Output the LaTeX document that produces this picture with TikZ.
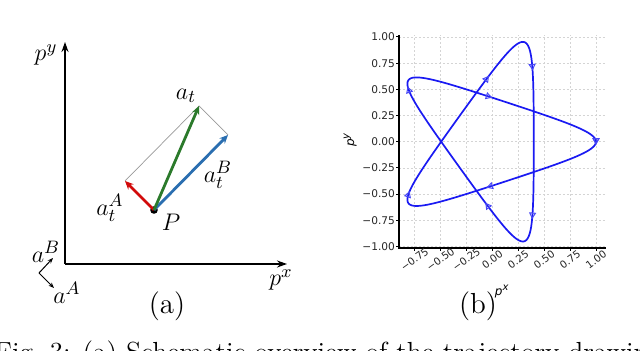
\documentclass[tikz,border=0pt]{standalone}
\usepackage{fontspec}
\usetikzlibrary{arrows.meta,positioning,calc}
\newfontfamily\plotfont{DejaVu Sans}
\definecolor{vecred}{HTML}{D20A0A}
\definecolor{vecgreen}{HTML}{2B7A2B}
\definecolor{vecblue}{HTML}{2A6EB0}
\definecolor{starblue}{HTML}{1A1AF2}
\definecolor{gridgray}{HTML}{D4D4D4}

\begin{document}
\begin{tikzpicture}[x=0.5pt, y=0.5pt,
    axisarrow/.style={black, line width=0.8pt, -{Stealth[length=5pt,width=3.5pt]}},
    vecarrow/.style={line width=1.4pt, -{Stealth[length=4.2pt,width=3.8pt]}},
    mathlabel/.style={font=\fontsize{13}{15}\selectfont, inner sep=1pt},
    caplabel/.style={font=\rmfamily\fontsize{14.5}{16}\selectfont, inner sep=0pt},
    gridline/.style={gridgray, line width=0.35pt, dash pattern=on 1.2pt off 0.8pt},
    spine/.style={black, line width=0.9pt},
    ticklabel/.style={font=\plotfont\fontsize{5.3}{6}\selectfont, inner sep=0pt, text=black!85},
    starmark/.style={starblue!80, line width=0.5pt, -{Triangle[open,length=3.3pt,width=3.6pt]}}]

  \useasboundingbox (0,0) rectangle (640,351);

  % ============ (a) SCHEMATIC ============

  % ---- Axes ----
  \coordinate (O) at (65,87);
  \coordinate (ytop) at (65,309);
  \coordinate (xend) at (287,87);
  \draw[axisarrow] (O) -- (ytop);
  \draw[axisarrow] (O) -- (xend);
  \node[mathlabel] (py) at (46,296) {$p^y$};
  \node[mathlabel] (px) at (281,71) {$p^x$};

  % ---- Action vectors ----
  \node[circle, fill=black, inner sep=0pt, minimum size=3.8pt] (P) at (154,141) {};
  \coordinate (tA) at (125,170);
  \coordinate (tB) at (228,216);
  \coordinate (tAB) at (199,245);
  \draw[gray!80, line width=0.35pt] (tA) -- (tAB) -- (tB);
  \draw[vecarrow, vecred] (P.center) -- (tA);
  \draw[vecarrow, vecblue] (P.center) -- (tB);
  \draw[vecarrow, vecgreen] (P.center) -- (tAB);
  \node[mathlabel] (lat) at (186,255) {$a_t$};
  \node[mathlabel] (latB) at (218,176) {$a_t^B$};
  \node[mathlabel] (latA) at (110,143) {$a_t^A$};
  \node[mathlabel] (lP) at (171,129) {$P$};

  % ---- Action frame ----
  \coordinate (fo) at (39,78);
  \coordinate (fB) at (53,93);
  \coordinate (fA) at (54,63);
  \draw[black, line width=0.5pt, -{Stealth[length=2.8pt,width=2.2pt]}] (fo) -- (fB);
  \draw[black, line width=0.5pt, -{Stealth[length=2.8pt,width=2.2pt]}] (fo) -- (fA);
  \node[mathlabel] (laB) at (46,99) {$a^B$};
  \node[mathlabel] (laA) at (67,58) {$a^A$};

  \node[caplabel] (capa) at (167,45) {(a)};

  % ============ (b) STAR TRAJECTORY ============
  \begin{scope}[shift={(492.3,209.3)}, x=51.85pt, y=52.35pt]

    % ---- Grid ----
    \foreach \gx in {-0.75,-0.5,-0.25,0,0.25,0.5,0.75,1}
      \draw[gridline] (\gx,-1.015) -- (\gx,1.02);
    \foreach \gy in {-1,-0.75,-0.5,-0.25,0,0.25,0.5,0.75,1}
      \draw[gridline] (-0.9,\gy) -- (1.1,\gy);

    % ---- Trajectory ----
    \draw[starblue, line width=0.85pt]
      plot[domain=0:360, samples=300, smooth, variable=\s]
      ({0.7*cos(2*\s)+0.3*cos(3*\s)}, {-0.7*sin(2*\s)+0.3*sin(3*\s)});

    % direction markers
    \foreach \k in {0,...,9} {
      \pgfmathsetmacro\s{40*\k}
      \pgfmathsetmacro\mx{0.7*cos(2*\s)+0.3*cos(3*\s)}
      \pgfmathsetmacro\my{-0.7*sin(2*\s)+0.3*sin(3*\s)}
      \pgfmathsetmacro\dx{-1.4*sin(2*\s)-0.9*sin(3*\s)}
      \pgfmathsetmacro\dy{-1.4*cos(2*\s)+0.9*cos(3*\s)}
      \pgfmathsetmacro\ang{atan2(\dy,\dx)}
      \coordinate (m\k) at (\mx,\my);
      \draw[starmark] ($(m\k)+(\ang+180:0.02)$) -- ($(m\k)+(\ang:0.03)$);
    }

    % ---- Spines and ticks ----
    \coordinate (stop) at (-0.9,1.02);
    \coordinate (sorig) at (-0.9,-1.015);
    \coordinate (sright) at (1.1,-1.015);
    \draw[spine] (stop) -- (sorig) -- (sright);

    \foreach \gy/\lab [count=\i] in {-1/−1.00,-0.75/−0.75,-0.5/−0.50,-0.25/−0.25,
        0/0.00,0.25/0.25,0.5/0.50,0.75/0.75,1/1.00} {
      \draw[black, line width=0.5pt] (-0.9,\gy) -- (-0.932,\gy);
      \node[ticklabel, anchor=east] (yt\i) at (-0.935,\gy) {\lab};
    }
    \foreach \gx/\lab [count=\i] in {-0.75/−0.75,-0.5/−0.50,-0.25/−0.25,
        0/0.00,0.25/0.25,0.5/0.50,0.75/0.75,1/1.00} {
      \draw[black, line width=0.5pt] (\gx,-1.015) -- (\gx,-1.048);
      \node[ticklabel, font=\plotfont\fontsize{5.1}{6}\selectfont, rotate=36] (xt\i)
        at (\gx,-1.125) {\lab};
    }

    \node[font=\plotfont\itshape\fontsize{6}{7}\selectfont, rotate=90] (ply)
      at (-1.37,0.02) {p\textsuperscript{y}};
    \node[font=\plotfont\itshape\fontsize{6}{7}\selectfont] (plx)
      at (0.095,-1.435) {p\textsuperscript{x}};
  \end{scope}

  \node[caplabel] (capb) at (478,45) {(b)};

  % ---- Cut caption line ----
  \begin{scope}
    \clip (0,0) rectangle (640,351);
    \node[anchor=north west, inner sep=0pt, font=\rmfamily\fontsize{13.8}{16}\selectfont] (figcap)
      at (-6,11) {Fig.\ 3: (a) Schematic overview of the trajectory drawing};
  \end{scope}

\end{tikzpicture}
\end{document}
